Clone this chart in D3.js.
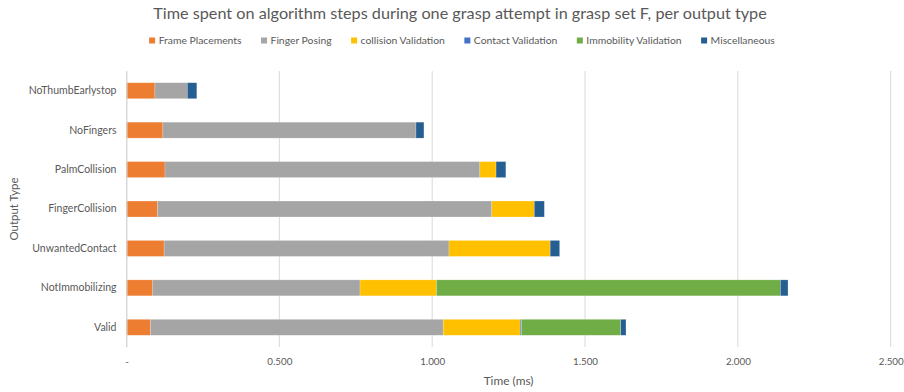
<!DOCTYPE html>
<html>
<head>
<meta charset="utf-8">
<script src="https://cdn.jsdelivr.net/npm/d3@7/dist/d3.min.js"></script>
<style>
  html, body { margin: 0; padding: 0; background: #fff; }
  svg { display: block; }
  text { font-family: Lato, "Open Sans", sans-serif; fill: #595959; }
</style>
</head>
<body>
<svg id="chart" width="904" height="392"></svg>
<script>
// Output types, top to bottom
const categories = ["NoThumbEarlystop", "NoFingers", "PalmCollision", "FingerCollision",
                    "UnwantedContact", "NotImmobilizing", "Valid"];

// Algorithm steps (stack order, left to right)
const seriesNames = ["Frame Placements", "Finger Posing", "collision Validation",
                     "Contact Validation", "Immobility Validation", "Miscellaneous"];
const seriesColors = ["#ED7D31", "#A5A5A5", "#FFC000", "#4472C4", "#70AD47", "#255E91"];

// Time per step (ms), one value per output type in category order
const framePlacements     = [0.093, 0.119, 0.126, 0.101, 0.123, 0.086, 0.079];
const fingerPosing        = [0.106, 0.828, 1.030, 1.094, 0.932, 0.678, 0.957];
const collisionValidation = [0.000, 0.000, 0.053, 0.139, 0.331, 0.250, 0.252];
const contactValidation   = [0.000, 0.000, 0.000, 0.000, 0.000, 0.000, 0.004];
const immobilityValidation= [0.000, 0.000, 0.000, 0.000, 0.000, 1.125, 0.325];
const miscellaneous       = [0.031, 0.026, 0.032, 0.033, 0.031, 0.025, 0.017];

const xTicks = [0, 0.5, 1.0, 1.5, 2.0, 2.5];

const seriesValues = [framePlacements, fingerPosing, collisionValidation,
                      contactValidation, immobilityValidation, miscellaneous];

const rows = categories.map((c, i) => {
  const r = { category: c };
  seriesNames.forEach((s, j) => { r[s] = seriesValues[j][i]; });
  return r;
});

const svg = d3.select("#chart");
const margin = { left: 126.5, right: 13.3, top: 71, bottom: 45 };
const W = 904, H = 392;

const x = d3.scaleLinear().domain([0, 2.5]).range([margin.left, W - margin.right]);
const y = d3.scaleBand().domain(categories).range([margin.top, H - margin.bottom])
  .paddingInner(0.595).paddingOuter(0.2975);

// Fit a text element to a target width by adjusting its font size
function fitWidth(sel, target) {
  const node = sel.node();
  const fs = parseFloat(sel.attr("font-size"));
  const w = node.getComputedTextLength();
  sel.attr("font-size", fs * target / w);
}

// Title
const title = svg.append("text")
  .attr("x", 460).attr("y", 18.5)
  .attr("text-anchor", "middle")
  .attr("font-size", 16)
  .text("Time spent on algorithm steps during one grasp attempt in grasp set F, per output type");
fitWidth(title, 614);

// Gridlines
const grid = svg.append("g");
grid.selectAll("line").data(xTicks).join("line")
  .attr("x1", d => x(d)).attr("x2", d => x(d))
  .attr("y1", margin.top).attr("y2", H - margin.bottom)
  .attr("stroke", "#D9D9D9").attr("stroke-width", 1);

// Stacked bars
const stack = d3.stack().keys(seriesNames);
const layers = stack(rows);
const bars = svg.append("g");
bars.selectAll("g").data(layers).join("g")
  .attr("fill", (d, i) => seriesColors[i])
  .selectAll("rect").data(d => d.filter(p => p[1] - p[0] > 0)).join("rect")
  .attr("x", d => x(d[0]))
  .attr("width", d => x(d[1]) - x(d[0]))
  .attr("y", d => y(d.data.category))
  .attr("height", y.bandwidth())
  .attr("stroke", "rgba(255,255,255,0.35)")
  .attr("stroke-width", 0.6);

// Vertical category axis
const yAxis = svg.append("g")
  .attr("transform", `translate(${margin.left},0)`)
  .call(d3.axisLeft(y).tickSize(0).tickPadding(10));
yAxis.select(".domain").attr("stroke", "#D9D9D9");
yAxis.selectAll("text").attr("font-size", 11.5).attr("fill", "#595959")
  .style("font-family", "Lato, 'Open Sans', sans-serif");
const yLabelRef = yAxis.selectAll("text").filter(d => d === "NoThumbEarlystop");
const yScale = 88 / yLabelRef.node().getComputedTextLength();
yAxis.selectAll("text").attr("font-size", 11.5 * yScale);

// Horizontal value axis labels
const fmt = d3.format(".3f");
const xAxis = svg.append("g")
  .attr("transform", `translate(0,${H - margin.bottom})`)
  .call(d3.axisBottom(x).tickValues(xTicks).tickSize(0).tickPadding(11)
    .tickFormat(d => d === 0 ? "-" : fmt(d)));
xAxis.select(".domain").remove();
xAxis.selectAll("text").attr("font-size", 11).attr("fill", "#595959")
  .style("font-family", "Lato, 'Open Sans', sans-serif");
const xLabelRef = xAxis.selectAll("text").filter(d => d === 0.5);
const xScaleF = 25 / xLabelRef.node().getComputedTextLength();
xAxis.selectAll("text").attr("font-size", 11 * xScaleF);

// Axis titles
const xTitle = svg.append("text")
  .attr("x", (x.range()[0] + x.range()[1]) / 2).attr("y", 385)
  .attr("text-anchor", "middle").attr("font-size", 11)
  .text("Time (ms)");
fitWidth(xTitle, 50);

const yTitle = svg.append("text")
  .attr("transform", `translate(18,${(margin.top + H - margin.bottom) / 2}) rotate(-90)`)
  .attr("text-anchor", "middle").attr("font-size", 11)
  .text("Output Type");
fitWidth(yTitle, 63);

// Legend
const legend = svg.append("g");
const items = legend.selectAll("g").data(seriesNames).join("g");
items.append("rect")
  .attr("width", 6).attr("height", 6).attr("y", -6.5)
  .attr("fill", (d, i) => seriesColors[i]);
const labels = items.append("text")
  .attr("x", 9.5).attr("y", 0)
  .attr("font-size", 11)
  .text(d => d);
// Scale legend text so the first label spans its measured width
const lref = labels.filter(d => d === "Frame Placements");
const lscale = 83 / lref.node().getComputedTextLength();
labels.attr("font-size", 11 * lscale);
let cx = 0;
const offsets = [];
labels.each(function () {
  offsets.push(cx);
  cx += 9.5 + this.getComputedTextLength() + 19.5;
});
const totalW = cx - 19.5;
const startX = 462 - totalW / 2;
items.attr("transform", (d, i) => `translate(${startX + offsets[i]},44)`);
</script>
</body>
</html>
